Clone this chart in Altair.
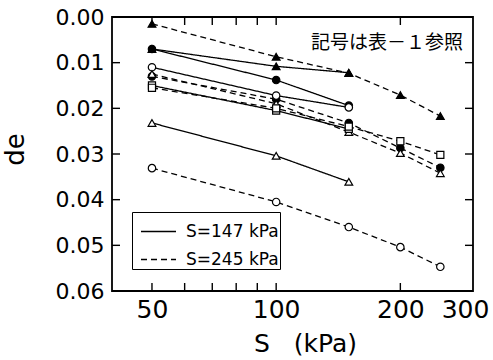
import altair as alt
import pandas as pd

# ---- data ----
x_vals = [50, 100, 150, 200, 250]

tri_f_147 = [0.0070, 0.0108, 0.0122]
circ_f_147 = [0.0070, 0.0138, 0.0194]
circ_o_147 = [0.0110, 0.0172, 0.0198]
sq_o_147 = [0.0150, 0.0205, 0.0245]
tri_o_147 = [0.0232, 0.0304, 0.0361]

tri_f_245 = [0.0015, 0.0087, 0.0123, 0.0171, 0.0217]
circ_f_245 = [0.0130, 0.0180, 0.0232, 0.0287, 0.0330]
circ_o_245 = [0.0331, 0.0405, 0.0460, 0.0504, 0.0547]
sq_o_245 = [0.0155, 0.0200, 0.0240, 0.0272, 0.0302]
tri_o_245 = [0.0125, 0.0190, 0.0252, 0.0298, 0.0342]

group_labels = ["S=147 kPa", "S=245 kPa"]
x_label_values = [50, 100, 200, 300]
x_minor_ticks = [50, 60, 70, 80, 90, 100, 200]
y_label_values = [0.0, 0.01, 0.02, 0.03, 0.04, 0.05, 0.06]
y_inner_ticks = [0.01, 0.02, 0.03, 0.04, 0.05]
annotation = "記号は表－１参照"
x_title = "S\u00a0\u00a0\u00a0(kPa)"
y_title = "de"

series = [
    ("tri_f_147", tri_f_147, "triangle-up", "filled", group_labels[0]),
    ("circ_f_147", circ_f_147, "circle", "filled", group_labels[0]),
    ("circ_o_147", circ_o_147, "circle", "open", group_labels[0]),
    ("sq_o_147", sq_o_147, "square", "open", group_labels[0]),
    ("tri_o_147", tri_o_147, "triangle-up", "open", group_labels[0]),
    ("tri_f_245", tri_f_245, "triangle-up", "filled", group_labels[1]),
    ("circ_f_245", circ_f_245, "circle", "filled", group_labels[1]),
    ("circ_o_245", circ_o_245, "circle", "open", group_labels[1]),
    ("sq_o_245", sq_o_245, "square", "open", group_labels[1]),
    ("tri_o_245", tri_o_245, "triangle-up", "open", group_labels[1]),
]
sizes = {"circle": 55, "triangle-up": 60, "square": 50}

rows = []
for name, vals, shape, style, grp in series:
    for xv, yv in zip(x_vals, vals):
        rows.append({"S": xv, "de": yv, "series": name, "shape": shape,
                     "style": style, "group": grp})
df = pd.DataFrame(rows)

W, H = 361, 274
FONT = "DejaVu Sans"
TL = 8

xscale = alt.Scale(type="log", domain=[40, 300], nice=False)
yscale = alt.Scale(domain=[0, 0.06], reverse=True, nice=False, zero=False)

x_axis = alt.Axis(
    values=x_label_values, format="d", ticks=False, tickSize=0, grid=False,
    domain=False, labelFont=FONT, labelFontSize=25, labelPadding=6,
    labelColor="black", labelFlush=False,
    labelOffset={"condition": {"test": "datum.value == 300", "value": -8}, "value": 0},
    title=x_title, titleFont=FONT, titleFontSize=25, titleFontWeight="normal",
    titleColor="black", titleX=193, titleY=52, titleBaseline="middle",
    titleAlign="center",
)
y_axis = alt.Axis(
    values=y_label_values, format=".2f", ticks=False, tickSize=0, grid=False,
    domain=False, labelFont=FONT, labelFontSize=22, labelPadding=8,
    labelColor="black", labelFlush=False, labelBound=False,
    title=y_title, titleFont=FONT, titleFontSize=26, titleFontWeight="normal",
    titleColor="black", titleX=-97, titleY=132, titleAngle=270,
    titleBaseline="middle", titleAlign="center",
)

lines = alt.Chart(df).mark_line(color="black", strokeWidth=1.3).encode(
    x=alt.X("S:Q", scale=xscale, axis=x_axis),
    y=alt.Y("de:Q", scale=yscale, axis=y_axis),
    detail="series:N",
    strokeDash=alt.StrokeDash(
        "group:N",
        scale=alt.Scale(domain=group_labels, range=[[1, 0], [6, 4]]),
        legend=alt.Legend(
            title=None, orient="none", legendX=20, legendY=195,
            symbolType="stroke", symbolSize=1225, symbolStrokeWidth=1.3,
            symbolStrokeColor="black", labelFont=FONT, labelFontSize=17,
            labelColor="black", labelOffset=9, padding=1, rowPadding=1,
            symbolOffset=7,
            strokeColor="black", fillColor="white",
        ),
    ),
)

# one point layer per marker kind (mark properties, no extra scales)
point_layers = []
for shp in ["circle", "triangle-up", "square"]:
    for style, fillc in [("filled", "black"), ("open", "white")]:
        point_layers.append(
            alt.Chart(df).transform_filter(
                (alt.datum.shape == shp) & (alt.datum.style == style)
            ).mark_point(
                shape=shp, filled=True, fill=fillc, stroke="black",
                strokeWidth=1.2, size=sizes[shp], opacity=1,
            ).encode(
                x=alt.X("S:Q", scale=xscale),
                y=alt.Y("de:Q", scale=yscale),
            )
        )

xt = pd.DataFrame({"S": x_minor_ticks})
yt = pd.DataFrame({"de": y_inner_ticks})
rule_style = dict(stroke="black", strokeWidth=1.4, strokeOpacity=1)
bottom_ticks = alt.Chart(xt).mark_rule(**rule_style).encode(
    x=alt.X("S:Q", scale=xscale), y=alt.value(H), y2=alt.value(H - TL))
top_ticks = alt.Chart(xt).mark_rule(**rule_style).encode(
    x=alt.X("S:Q", scale=xscale), y=alt.value(0), y2=alt.value(TL))
left_ticks = alt.Chart(yt).mark_rule(**rule_style).encode(
    y=alt.Y("de:Q", scale=yscale), x=alt.value(0), x2=alt.value(TL))
right_ticks = alt.Chart(yt).mark_rule(**rule_style).encode(
    y=alt.Y("de:Q", scale=yscale), x=alt.value(W), x2=alt.value(W - TL))

note = alt.Chart(pd.DataFrame({"t": [annotation]})).mark_text(
    font="Noto Sans CJK JP", fontSize=19, align="right", baseline="middle",
    color="black").encode(text="t:N", x=alt.value(351), y=alt.value(26))

chart = alt.layer(
    lines, *point_layers, bottom_ticks, top_ticks, left_ticks, right_ticks, note
).properties(
    width=W, height=H,
    background="white",
    autosize=alt.AutoSizeParams(type="none"),
    padding={"left": 112, "top": 17, "right": 20, "bottom": 69},
).configure_view(
    stroke="black", strokeWidth=1.8
)

chart.save("out.html", embed_options={"renderer": "svg", "actions": False})
